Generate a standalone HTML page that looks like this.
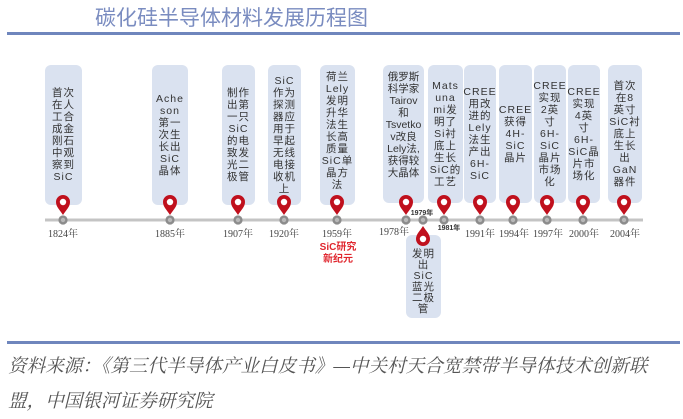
<!DOCTYPE html>
<html><head><meta charset="utf-8"><style>
body{margin:0;width:683px;height:419px;background:#fff;position:relative;overflow:hidden;font-family:"Liberation Sans","Noto Sans CJK SC",sans-serif}
.t{position:absolute;left:95px;top:2px;font-size:21px;color:#7a8cc0;font-family:"Liberation Sans","Noto Sans CJK SC",sans-serif;letter-spacing:0px}
.hl{position:absolute;left:7px;width:673px;height:3px;background:#6f86bd}
.b{position:absolute;background:#dae2f0;border-radius:6px;display:flex;flex-direction:column;justify-content:center;align-items:center;font-size:10.5px;line-height:12px;color:#333;text-align:center;white-space:nowrap;letter-spacing:1px}
.f{position:absolute;left:8px;font-size:18.6px;color:#555;font-style:italic;font-family:"Liberation Serif","Noto Serif CJK SC",serif;white-space:nowrap}
</style></head><body>
<div class="t">碳化硅半导体材料发展历程图</div>
<div class="hl" style="top:32px"></div>

<div class="b" style="left:45px;top:65px;width:37px;height:140px">首次<br>在人<br>工合<br>成金<br>刚石<br>中观<br>察到<br>SiC</div>
<div class="b" style="left:152px;top:65px;width:36px;height:140px">Ache<br>son<br>第一<br>次生<br>长出<br>SiC<br>晶体</div>
<div class="b" style="left:222px;top:65px;width:33px;height:140px">制作<br>出第<br>一只<br>SiC<br>的电<br>致发<br>光二<br>极管</div>
<div class="b" style="left:268px;top:65px;width:33px;height:140px;justify-content:flex-start;padding-top:10px;box-sizing:border-box">SiC<br>作为<br>探测<br>器应<br>用于<br>早起<br>无线<br>电接<br>收机<br>上</div>
<div class="b" style="left:320px;top:65px;width:35px;height:140px;justify-content:flex-start;padding-top:6px;box-sizing:border-box">荷兰<br>Lely<br>发明<br>升华<br>法生<br>长高<br>质量<br>SiC单<br>晶方<br>法</div>
<div class="b" style="left:383px;top:65px;width:41px;height:138px;justify-content:flex-start;padding-top:6px;box-sizing:border-box;letter-spacing:0">俄罗斯<br>科学家<br>Tairov<br>和<br>Tsvetko<br>v改良<br>Lely法,<br>获得较<br>大晶体</div>
<div class="b" style="left:428px;top:65px;width:35px;height:138px">Mats<br>una<br>mi发<br>明了<br>Si衬<br>底上<br>生长<br>SiC的<br>工艺</div>
<div class="b" style="left:464px;top:65px;width:32px;height:138px">CREE<br>用改<br>进的<br>Lely<br>法生<br>产出<br>6H-<br>SiC</div>
<div class="b" style="left:499px;top:65px;width:33px;height:138px">CREE<br>获得<br>4H-<br>SiC<br>晶片</div>
<div class="b" style="left:534px;top:65px;width:32px;height:138px">CREE<br>实现<br>2英<br>寸<br>6H-<br>SiC<br>晶片<br>市场<br>化</div>
<div class="b" style="left:568px;top:65px;width:32px;height:138px">CREE<br>实现<br>4英<br>寸<br>6H-<br>SiC晶<br>片市<br>场化</div>
<div class="b" style="left:608px;top:65px;width:34px;height:138px">首次<br>在8<br>英寸<br>SiC衬<br>底上<br>生长<br>出<br>GaN<br>器件</div>
<div class="b" style="left:406px;top:235px;width:35px;height:83px;justify-content:flex-start;padding-top:14px;box-sizing:border-box;line-height:11px">发明<br>出<br>SiC<br>蓝光<br>二极<br>管</div>

<svg style="position:absolute;left:0;top:0" width="683" height="419">
<defs>
<g id="pin"><path d="M0,0 C-3,-5 -7,-8 -7,-13 A7,7 0 1 1 7,-13 C7,-8 3,-5 0,0 Z" fill="#c0101d"/><circle cx="0" cy="-13" r="3.2" fill="#fff"/></g>
<g id="dot"><circle r="4.6" fill="#8c8c8c"/><circle r="2.2" fill="#b8b8b8"/></g>
</defs>
<line x1="45" y1="220" x2="643" y2="220" stroke="#c4c4c4" stroke-width="3"/>
<g>
<use href="#dot" x="63" y="220"/><use href="#dot" x="170" y="220"/><use href="#dot" x="238" y="220"/><use href="#dot" x="284" y="220"/><use href="#dot" x="337" y="220"/><use href="#dot" x="406" y="220"/><use href="#dot" x="423" y="220"/><use href="#dot" x="444" y="220"/><use href="#dot" x="480" y="220"/><use href="#dot" x="513" y="220"/><use href="#dot" x="547" y="220"/><use href="#dot" x="583" y="220"/><use href="#dot" x="624" y="220"/>
</g>
<g>
<use href="#pin" x="63" y="215"/><use href="#pin" x="170" y="215"/><use href="#pin" x="238" y="215"/><use href="#pin" x="284" y="215"/><use href="#pin" x="337" y="215"/><use href="#pin" x="406" y="215"/><use href="#pin" x="444" y="215"/><use href="#pin" x="480" y="215"/><use href="#pin" x="513" y="215"/><use href="#pin" x="547" y="215"/><use href="#pin" x="583" y="215"/><use href="#pin" x="624" y="215"/>
<use href="#pin" transform="translate(423,226) scale(1,-1)"/>
</g>
<g font-family="Liberation Serif,Noto Serif CJK SC,serif" font-size="10" fill="#444" text-anchor="middle">
<text x="63" y="237">1824年</text><text x="170" y="237">1885年</text><text x="238" y="237">1907年</text><text x="284" y="237">1920年</text><text x="337" y="237">1959年</text><text x="394" y="235">1978年</text><text x="480" y="237">1991年</text><text x="514" y="237">1994年</text><text x="548" y="237">1997年</text><text x="584" y="237">2000年</text><text x="625" y="237">2004年</text>
</g>
<g font-family="Liberation Sans,Noto Sans CJK SC,sans-serif" font-size="7" font-weight="bold" fill="#333" text-anchor="middle">
<text x="422" y="215">1979年</text><text x="449" y="230">1981年</text>
</g>
<g font-family="Liberation Sans,Noto Sans CJK SC,sans-serif" font-size="10" font-weight="bold" fill="#e0262e" text-anchor="middle">
<text x="338" y="250">SiC研究</text><text x="338" y="262">新纪元</text>
</g>
</svg>

<div class="hl" style="top:341px"></div>
<div class="f" style="top:352px">资料来源：《第三代半导体产业白皮书》—中关村天合宽禁带半导体技术创新联</div>
<div class="f" style="top:387px">盟，中国银河证券研究院</div>
</body></html>
